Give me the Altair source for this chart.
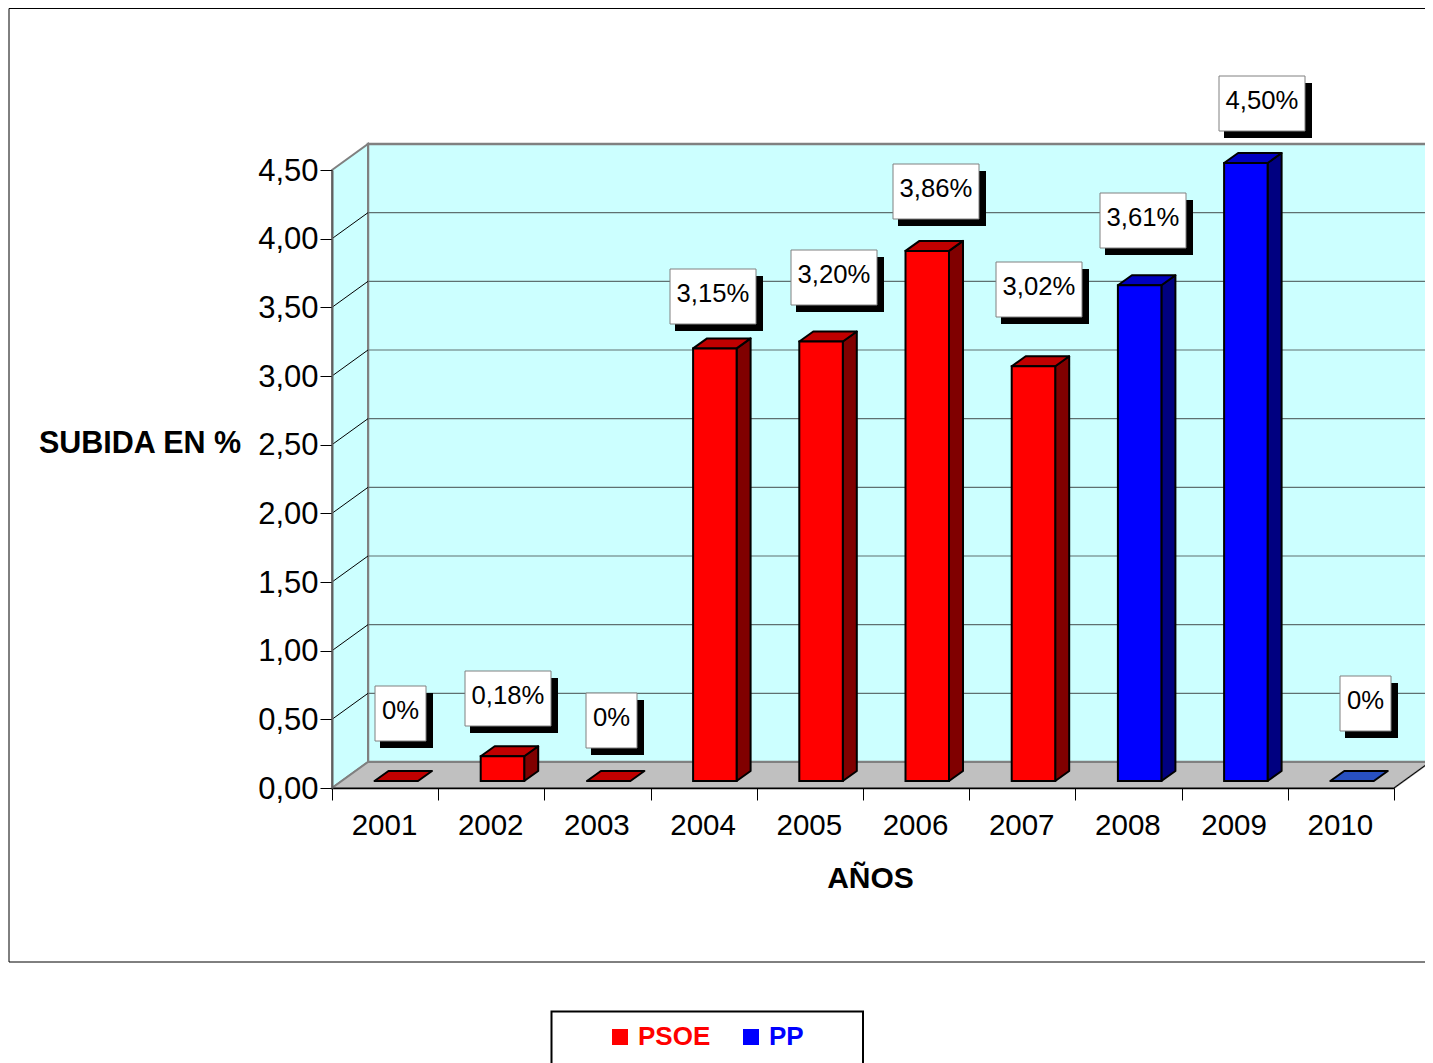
import altair as alt
import pandas as pd

# values
years = [2001, 2002, 2003, 2004, 2005, 2006, 2007, 2008, 2009, 2010]
rises = [0, 0.18, 0, 3.15, 3.20, 3.86, 3.02, 3.61, 4.50, 0]
parties = ["PSOE"] * 7 + ["PP"] * 3
label_texts = ["0%", "0,18%", "0%", "3,15%", "3,20%", "3,86%", "3,02%", "3,61%", "4,50%", "0%"]
y_ticks = [0, 0.5, 1, 1.5, 2, 2.5, 3, 3.5, 4, 4.5]
x_ticks = list(range(11))

# hand-placed data label boxes (left and top, picture pixels)
label_left = [375, 465, 586, 670, 791, 893, 996, 1100, 1219, 1340]
label_top = [686, 671, 693, 269, 250, 164, 262, 193, 76, 676]

side_colors = {"PSOE": "#800000", "PP": "#000080"}
top_colors = ["#C00000"] * 7 + ["#0000C0", "#0000C0", "#2850C0"]

W, H = 1062, 618
ORX, ORY = 332, 788          # picture position of the axes' origin
PX = W / 10                  # pixels per category
PY = H / 4.5                 # pixels per unit of value

def ux(px):  # horizontal pixels -> category units
    return px / PX

def uy(px):  # vertical pixels -> value units
    return px / PY

wall_dx, wall_dy = ux(36), uy(26)
bar_dx, bar_dy = ux(14), uy(10)
bar_left, bar_right = ux(42.5), ux(86)
base = uy(7)

x_s = alt.Scale(domain=[0, 10], nice=False, zero=False)
y_s = alt.Scale(domain=[0, 4.5], nice=False, zero=False)


def rows_side(key, x0, d, t0, b0, tshift):
    return [
        dict(key=key, x=x0, y=t0, y2=b0),
        dict(key=key, x=x0 + d, y=t0 + tshift, y2=b0 + tshift),
    ]


# walls ---------------------------------------------------------------
side_wall = pd.DataFrame(rows_side("side", 0, wall_dx, 4.5, 0, wall_dy))
floor = pd.DataFrame([
    dict(key="floor", x=0, y=0, y2=0),
    dict(key="floor", x=wall_dx, y=wall_dy, y2=0),
    dict(key="floor", x=10, y=wall_dy, y2=0),
    dict(key="floor", x=10 + wall_dx, y=wall_dy, y2=wall_dy),
])
back = pd.DataFrame([dict(x=wall_dx, x2=10 + wall_dx, y=wall_dy, y2=4.5 + wall_dy)])
grid = pd.DataFrame([dict(x=wall_dx, x2=10 + wall_dx, y=v + wall_dy, y2=v + wall_dy) for v in y_ticks[1:-1]])
diag = pd.DataFrame(
    [dict(x=0, x2=wall_dx, y=v, y2=v + wall_dy) for v in y_ticks[1:-1]]
    + [dict(x=10, x2=10 + wall_dx, y=0, y2=wall_dy)]
)

# bars -----------------------------------------------------------------
fronts, faces = [], []
for i, (yr, v, p) in enumerate(zip(years, rises, parties)):
    L, R = i + bar_left, i + bar_right
    T, B = base + v, base
    if v > 0:
        fronts.append(dict(x=L, x2=R, y=T, y2=B, party=p))
    for r in rows_side(f"s{yr}", R, bar_dx, T, B, bar_dy):
        r["hex"] = side_colors[p]
        if v > 0:
            faces.append(r)
    for r in [
        dict(key=f"t{yr}", x=L, y=T, y2=T),
        dict(key=f"t{yr}", x=L + bar_dx, y=T + bar_dy, y2=T),
        dict(key=f"t{yr}", x=R, y=T + bar_dy, y2=T),
        dict(key=f"t{yr}", x=R + bar_dx, y=T + bar_dy, y2=T + bar_dy),
    ]:
        r["hex"] = top_colors[i]
        faces.append(r)
fronts = pd.DataFrame(fronts)
faces = pd.DataFrame(faces)

# labels ---------------------------------------------------------------
boxes = []
for left, top, txt in zip(label_left, label_top, label_texts):
    w = 51 if len(txt) < 4 else 86
    x0 = ux(left - ORX)
    y0 = uy(ORY - top)
    boxes.append(dict(x=x0, x2=x0 + ux(w), y=y0, y2=y0 - uy(55),
                      cx=x0 + ux(w / 2), cy=y0 - uy(27.5), txt=txt))
boxes = pd.DataFrame(boxes)

axis_font = "Liberation Sans"
x_axis = alt.Axis(
    values=x_ticks, title="AÑOS", titleFont=axis_font, titleFontSize=30, titleFontWeight="bold",
    titleColor="black", titleX=538, titleY=90, titleAlign="center", titleBaseline="middle",
    labelExpr="datum.value < 10 ? '' + (2001 + datum.value) : ''", labelFont=axis_font, labelFontSize=29.5,
    labelColor="black", labelOffset=52, labelPadding=11, labelFlush=False, labelOverlap=False, labelAngle=0,
    tickColor="black", tickSize=12, tickWidth=1, domainColor="black", domainWidth=1.5, grid=False, zindex=1,
)
y_axis = alt.Axis(
    values=y_ticks, title="SUBIDA EN %", titleFont=axis_font, titleFontSize=30.5, titleFontWeight="bold",
    titleColor="black", titleAngle=0, titleX=-192.5, titleY=273, titleAlign="center", titleBaseline="middle",
    labelExpr="replace(format(datum.value, '.2f'), '.', ',')", labelFont=axis_font, labelFontSize=31,
    labelColor="black", labelPadding=2, labelOffset=1, labelOverlap=False, labelFlush=False,
    tickColor="black", tickSize=12, tickWidth=1, domainColor="#606060", domainWidth=2, grid=False, zindex=1,
)


def X(field="x"):
    return alt.X(f"{field}:Q", scale=x_s, axis=x_axis)


def Y(field="y"):
    return alt.Y(f"{field}:Q", scale=y_s, axis=y_axis)


frame = alt.Chart(pd.DataFrame({"a": [0]})).mark_rect(fillOpacity=0, stroke="black", strokeWidth=1).encode(
    x=alt.value(-323), x2=alt.value(1200), y=alt.value(-161.5), y2=alt.value(792))
legend_box = alt.Chart(pd.DataFrame({"a": [0]})).mark_rect(fillOpacity=0, stroke="black", strokeWidth=2).encode(
    x=alt.value(219.5), x2=alt.value(531), y=alt.value(841.5), y2=alt.value(950))

back_l = alt.Chart(back).mark_rect(fill="#CCFFFF", stroke="#808080", strokeWidth=2.5).encode(
    x=X(), x2="x2:Q", y=Y(), y2="y2:Q")
side_l = alt.Chart(side_wall).mark_area(orient="vertical", fill="#CCFFFF", stroke="#808080", strokeWidth=2).encode(
    x=X(), y=Y(), y2="y2:Q")
floor_l = alt.Chart(floor).mark_area(orient="vertical", fill="#C0C0C0", stroke="#808080", strokeWidth=2).encode(
    x=X(), y=Y(), y2="y2:Q")
grid_l = alt.Chart(grid).mark_rule(color="#5F7070", strokeWidth=1.2).encode(
    x=X(), x2="x2:Q", y=Y(), y2="y2:Q")
diag_l = alt.Chart(diag).mark_rule(color="black", strokeWidth=1).encode(
    x=X(), x2="x2:Q", y=Y(), y2="y2:Q")
faces_l = alt.Chart(faces).mark_area(orient="vertical", stroke="black", strokeWidth=2, strokeJoin="round").encode(
    x=X(), y=Y(), y2="y2:Q", detail="key:N", fill=alt.Fill("hex:N", scale=None))
fronts_l = alt.Chart(fronts).mark_rect(stroke="black", strokeWidth=2).encode(
    x=X(), x2="x2:Q", y=Y(), y2="y2:Q",
    color=alt.Color("party:N", scale=alt.Scale(domain=["PSOE", "PP"], range=["#FF0000", "#0000FF"]),
                    legend=alt.Legend(
                        title=None, orient="none", legendX=275, legendY=854, direction="horizontal", columns=2,
                        symbolType="square", symbolSize=256, symbolStrokeWidth=0, symbolOpacity=1,
                        labelFont=axis_font, labelFontSize=26, labelFontWeight="bold", labelOffset=5,
                        labelColor=alt.expr("datum.label == 'PSOE' ? '#FF0000' : '#0000FF'"),
                        columnPadding=27, padding=0, labelLimit=200)))
shadow_l = alt.Chart(boxes).mark_rect(fill="black", xOffset=5, x2Offset=7, yOffset=7, y2Offset=7).encode(
    x=X(), x2="x2:Q", y=Y(), y2="y2:Q")
box_l = alt.Chart(boxes).mark_rect(fill="white", stroke="#808080", strokeWidth=1).encode(
    x=X(), x2="x2:Q", y=Y(), y2="y2:Q")
text_l = alt.Chart(boxes).mark_text(font=axis_font, fontSize=25.7, color="black", align="center",
                                    baseline="middle", dy=-3).encode(
    x=X("cx"), y=Y("cy"), text="txt:N")

chart = alt.layer(
    frame, legend_box, back_l, side_l, floor_l, grid_l, diag_l, faces_l, fronts_l, shadow_l, box_l, text_l
).properties(
    width=W, height=H, background="white",
    autosize=alt.AutoSizeParams(type="none"),
    padding={"left": 324, "top": 162, "right": 31, "bottom": 275},
).configure_view(strokeWidth=0)

chart.save("out.html", embed_options={"renderer": "svg", "actions": False})
